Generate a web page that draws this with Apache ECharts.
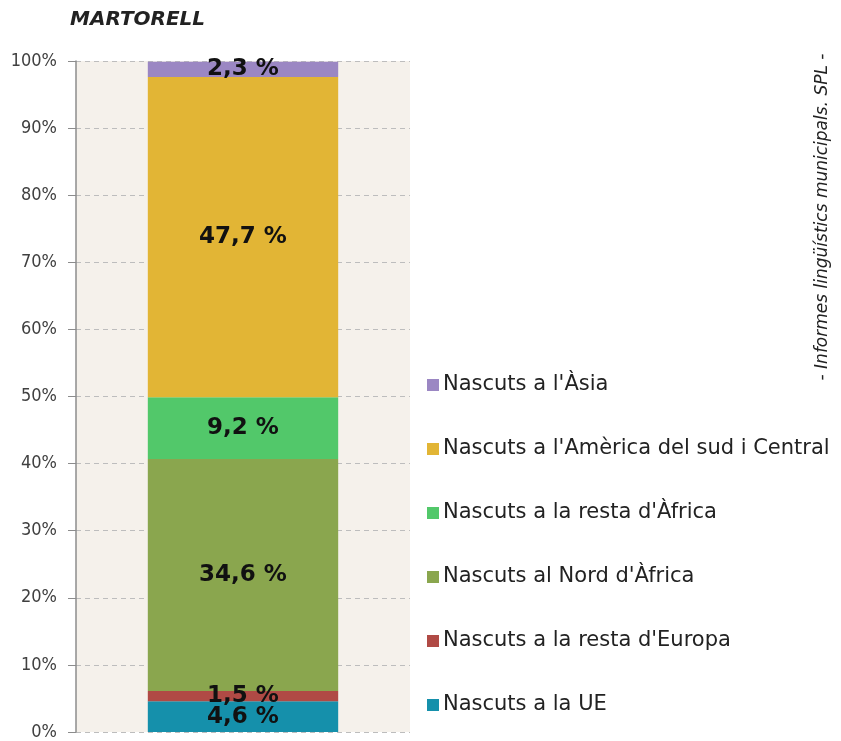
<!DOCTYPE html>
<html>
<head>
<meta charset="utf-8">
<script src="https://cdn.jsdelivr.net/npm/echarts@6/dist/echarts.min.js"></script>
<style>
  html, body { margin: 0; padding: 0; background: #fff; }
  #chart { width: 841px; height: 741px; }
</style>
</head>
<body>
<div id="chart"></div>
<script>
// dades: percentatge de població estrangera per origen (Martorell)
var categories = ["MARTORELL"];
var seriesNames = [
  "Nascuts a la UE",
  "Nascuts a la resta d'Europa",
  "Nascuts al Nord d'Àfrica",
  "Nascuts a la resta d'Àfrica",
  "Nascuts a l'Amèrica del sud i Central",
  "Nascuts a l'Àsia"
];
var seriesValues = [4.6, 1.5, 34.6, 9.2, 47.7, 2.3];
var seriesColors = ["#1590ab", "#b04a45", "#8aa64e", "#52c86a", "#e2b535", "#9b87c3"];
var yTicks = [0, 10, 20, 30, 40, 50, 60, 70, 80, 90, 100];

var chart = echarts.init(document.getElementById("chart"));

var series = [];
seriesNames.forEach(function (name, i) {
  series.push({
    name: name,
    type: "bar",
    stack: "total",
    barWidth: "57%",
    data: [seriesValues[i]],
    itemStyle: { color: seriesColors[i] },
    label: {
      show: true,
      position: "inside",
      formatter: function (p) {
        return String(p.value).replace(".", ",") + " %";
      },
      color: "#111",
      fontFamily: "DejaVu Sans",
      fontWeight: "bold",
      fontSize: 23
    }
  });
});

var option = {
  backgroundColor: "#fff",
  animation: false,
  title: {
    text: "MARTORELL",
    left: 65,
    top: 5,
    textStyle: {
      fontFamily: "DejaVu Sans",
      fontStyle: "italic",
      fontWeight: "bold",
      fontSize: 20,
      color: "#222"
    }
  },
  grid: {
    left: 76,
    right: 431,
    top: 61,
    bottom: 6,
    show: true,
    backgroundColor: "#f5f1eb",
    borderWidth: 0
  },
  legend: {
    orient: "vertical",
    left: 422,
    top: 369,
    itemWidth: 12,
    itemHeight: 12,
    itemGap: 42,
    icon: "rect",
    data: seriesNames.slice().reverse(),
    textStyle: {
      fontFamily: "DejaVu Sans",
      fontSize: 21,
      lineHeight: 22,
      color: "#222",
      padding: [0, 0, 0, -1]
    }
  },
  xAxis: {
    type: "category",
    data: categories,
    axisLine: { show: false },
    axisTick: { show: false },
    axisLabel: { show: false }
  },
  yAxis: {
    type: "value",
    min: yTicks[0],
    max: yTicks[yTicks.length - 1],
    interval: 10,
    axisLine: { show: true, lineStyle: { color: "#8c8c8c", width: 1.5 } },
    axisTick: { show: true, length: 8, lineStyle: { color: "#8c8c8c" } },
    axisLabel: {
      margin: 19,
      formatter: "{value}%",
      fontFamily: "DejaVu Sans Condensed",
      fontSize: 18,
      color: "#404040"
    },
    splitLine: {
      show: true,
      lineStyle: { color: "#bdbdbd", type: [5, 4], width: 1 }
    }
  },
  graphic: [
    {
      type: "text",
      x: 823,
      y: 217,
      rotation: Math.PI / 2,
      style: {
        text: "- Informes lingüístics municipals. SPL -",
        fontFamily: "DejaVu Sans",
        fontStyle: "italic",
        fontSize: 17,
        fill: "#222",
        align: "center",
        verticalAlign: "middle"
      }
    }
  ],
  series: series
};

chart.setOption(option);
</script>
</body>
</html>
